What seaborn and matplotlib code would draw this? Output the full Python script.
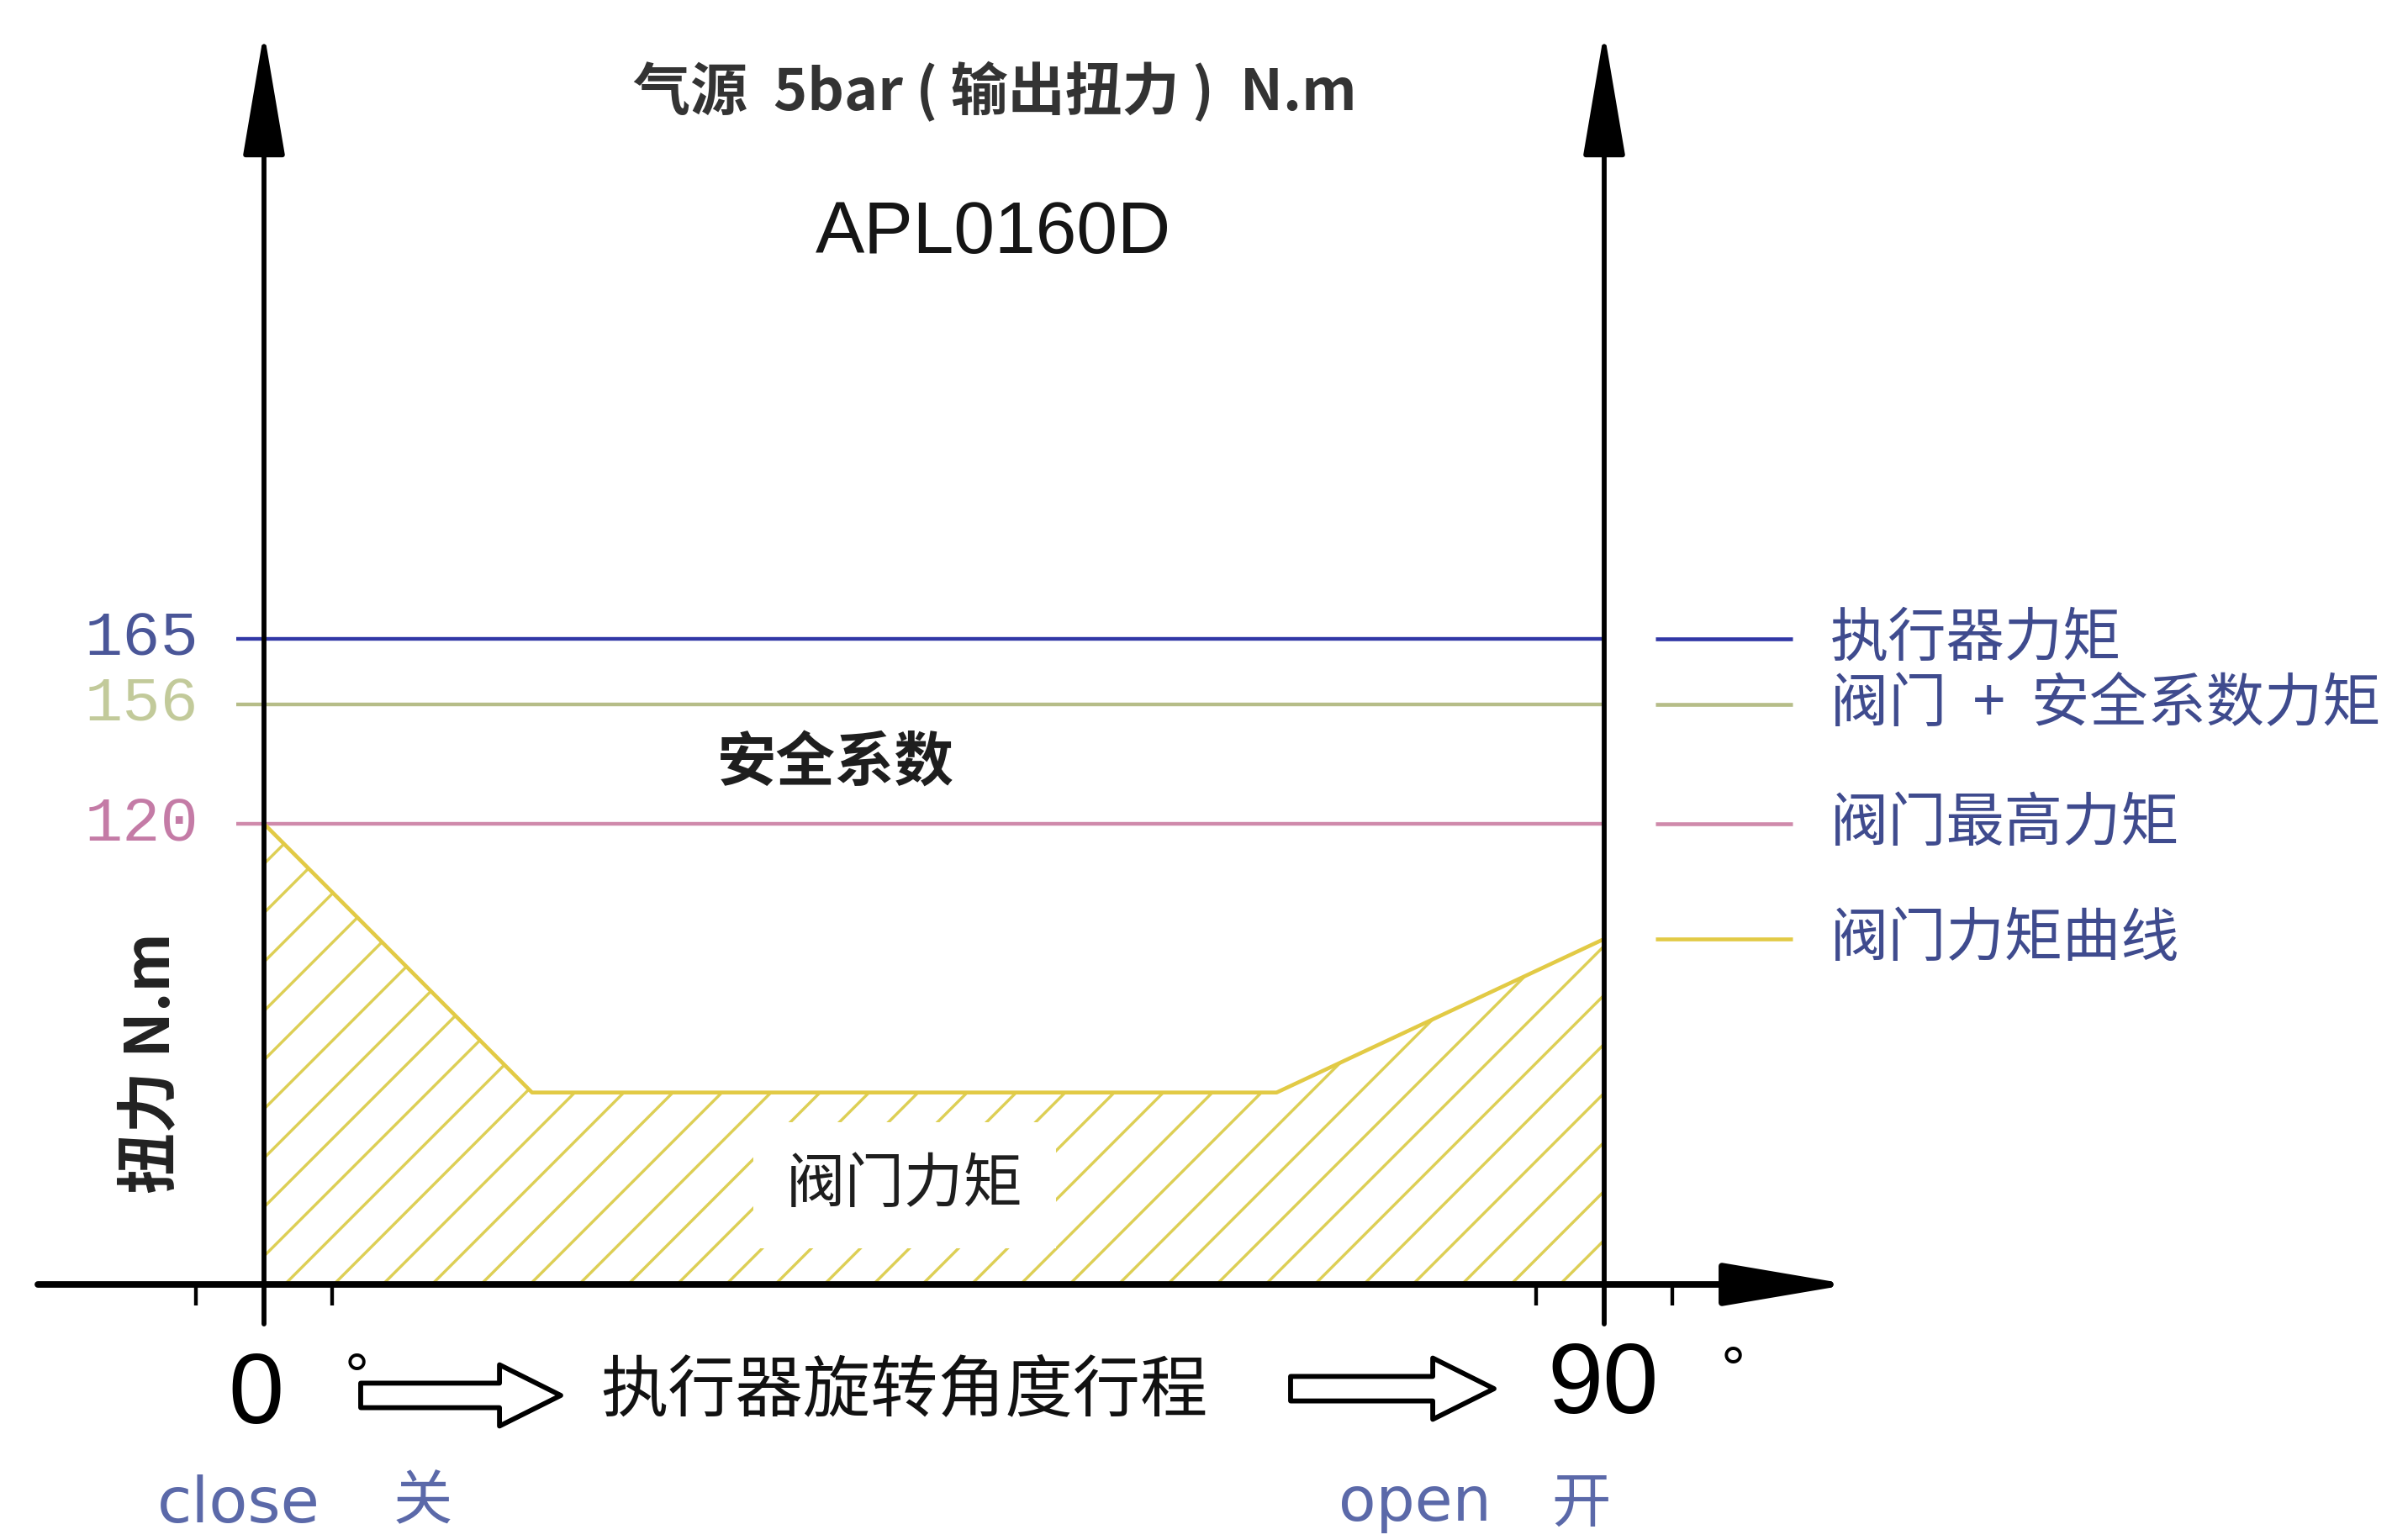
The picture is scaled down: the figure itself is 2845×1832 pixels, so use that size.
import matplotlib
matplotlib.use("Agg")
import numpy as np
import matplotlib.pyplot as plt
from matplotlib import font_manager
from matplotlib.patches import FancyArrowPatch
import seaborn as sns

# 阀门力矩曲线: 行程角度 (°) 与扭力 (N.m)
angle = [0, 18, 68, 90]
torque = [120, 50, 50, 90]

# 参考力矩线
levels = [165, 156, 120]
level_colors = ["#3137a6", "#b6bd88", "#cf8aab"]
level_label_colors = ["#4a5698", "#c2ca9a", "#c47ba6"]

legend_labels = ["执行器力矩", "阀门  +  安全系数力矩", "阀门最高力矩", "阀门力矩曲线"]
curve_color = "#e2ca45"
hatch_color = "#ddcf55"
legend_text_color = "#3f4b8e"
note_color = "#5b69a9"

# 画布与像素换算 (原图为示意图, 纵轴刻度不等距)
W, H, DPI = 2845, 1832, 175
X0_PX, X90_PX = 314, 1908
PX_PER_DEG = (X90_PX - X0_PX) / 90.0
S = (1528 - 980) / 120.0
VAL_KNOTS = [-1000, 0, 120, 156, 165, 1000]
PIX_KNOTS = [1528 + 1000 * S, 1528, 980, 838, 760, 760 - 835 * S]


def y_forward(v):
    return -np.interp(v, VAL_KNOTS, PIX_KNOTS)


def y_inverse(u):
    return np.interp(-np.asarray(u), PIX_KNOTS[::-1], VAL_KNOTS[::-1])


def dx(x):
    return (x - X0_PX) / PX_PER_DEG


def dy(y):
    return float(np.interp(y, PIX_KNOTS[::-1], VAL_KNOTS[::-1]))


sns.set_style("white")
plt.rcParams['font.family'] = ['Noto Sans CJK SC', 'DejaVu Sans']
plt.rcParams['hatch.linewidth'] = 1.4

names = {f.name for f in font_manager.fontManager.ttflist}
narrow = 'Liberation Sans Narrow' if 'Liberation Sans Narrow' in names else 'Liberation Sans'

fig = plt.figure(figsize=(W / DPI, H / DPI), dpi=DPI)
ax = fig.add_axes([0, 0, 1, 1])
ax.set_yscale('function', functions=(y_forward, y_inverse))
ax.set_xlim(dx(0), dx(W))
ax.set_ylim(dy(H), dy(0))
ax.axis('off')

# 阀门力矩区域 (阴影) 与曲线
ax.fill_between(angle, torque, 0, facecolor='none', edgecolor=hatch_color,
                hatch='/', linewidth=0, zorder=1)
sns.lineplot(x=angle, y=torque, color=curve_color, linewidth=1.9, ax=ax, zorder=3)

# 水平参考线与左侧数值
ax.hlines(levels, xmin=dx(281), xmax=90, colors=level_colors, linewidth=1.8, zorder=2)
for v, c in zip(levels, level_label_colors):
    ax.text(dx(236), v, str(v), ha='right', va='center', family='Liberation Mono',
            fontsize=31, color=c)

# 右侧图例 (与各线等高)
legend_y = levels + [torque[-1]]
legend_colors = level_colors + [curve_color]
for yv, c, lab in zip(legend_y, legend_colors, legend_labels):
    ax.plot([dx(1969), dx(2132)], [yv, yv], color=c, lw=1.9, solid_capstyle='butt')
    ax.text(dx(2177), yv, lab, ha='left', va='center', fontsize=28.5, color=legend_text_color)

# 坐标轴箭头
axis_style = '-|>,head_length=53,head_width=9'
ax.annotate('', xy=(dx(2200), 0), xytext=(dx(45), 0),
            arrowprops=dict(arrowstyle=axis_style, mutation_scale=1, color='black',
                            lw=3.2, shrinkA=0, shrinkB=0), zorder=5)
for xv in (0, 90):
    ax.annotate('', xy=(xv, dy(38)), xytext=(xv, dy(1575)),
                arrowprops=dict(arrowstyle=axis_style, mutation_scale=1, color='black',
                                lw=2.4, shrinkA=0, shrinkB=0), zorder=5)

tick_off = 81 / PX_PER_DEG
ax.vlines([-tick_off, tick_off, 90 - tick_off, 90 + tick_off], ymin=dy(1553), ymax=0,
          color='black', lw=1.8, zorder=5)

# 标题文字
ax.text(dx(1183), dy(110), "气源  5bar ( 输出扭力 )  N.m", ha='center', va='center',
        fontsize=28, weight='bold', color='#333333')
ax.text(dx(1181), dy(278), "APL0160D", ha='center', va='center',
        family='Liberation Sans', fontsize=36, color='#151515')

ax.text(dx(994), dy(908), "安全系数", ha='center', va='center', fontsize=29,
        weight='bold', color='#1e1e1e')
ax.text(dx(1076), dy(1410), "阀门力矩", ha='center', va='center', fontsize=29,
        color='#1e1e1e', zorder=4,
        bbox=dict(facecolor='white', edgecolor='none', boxstyle='square,pad=0.55'))

ax.text(dx(180), dy(1265), "扭力 N.m", rotation=90, ha='center', va='center',
        fontsize=30, weight='bold', color='#222222')

# 底部行程说明
ax.text(dx(304), dy(1663), "0", ha='center', va='center', family=narrow,
        fontsize=49, color='black')
ax.text(dx(1907), dy(1651), "90", ha='center', va='center', family=narrow,
        fontsize=49, color='black')
ax.text(dx(424), dy(1642), "°", ha='center', va='center', family='Liberation Sans',
        fontsize=30, color='black')
ax.text(dx(2061), dy(1634), "°", ha='center', va='center', family='Liberation Sans',
        fontsize=30, color='black')
ax.text(dx(1075), dy(1655), "执行器旋转角度行程", ha='center', va='center',
        fontsize=33, color='#111111')

for x_start, x_end, y_mid in [(429, 667, 1660), (1535, 1777, 1652)]:
    arr = FancyArrowPatch((dx(x_start), dy(y_mid)), (dx(x_end), dy(y_mid)),
                          arrowstyle='simple,head_length=30,head_width=30,tail_width=12',
                          mutation_scale=1, facecolor='white', edgecolor='black',
                          lw=2.4, shrinkA=0, shrinkB=0, zorder=5)
    ax.add_patch(arr)

ax.text(dx(187), dy(1790), "close", ha='left', va='center', family='DejaVu Sans',
        fontsize=31, color=note_color)
ax.text(dx(468), dy(1788), "关", ha='left', va='center', fontsize=29, color=note_color)
ax.text(dx(1592), dy(1788), "open", ha='left', va='center', family='DejaVu Sans',
        fontsize=30, color=note_color)
ax.text(dx(1845), dy(1790), "开", ha='left', va='center', fontsize=29, color=note_color)

fig.savefig("out.png", dpi=DPI, facecolor='white')
